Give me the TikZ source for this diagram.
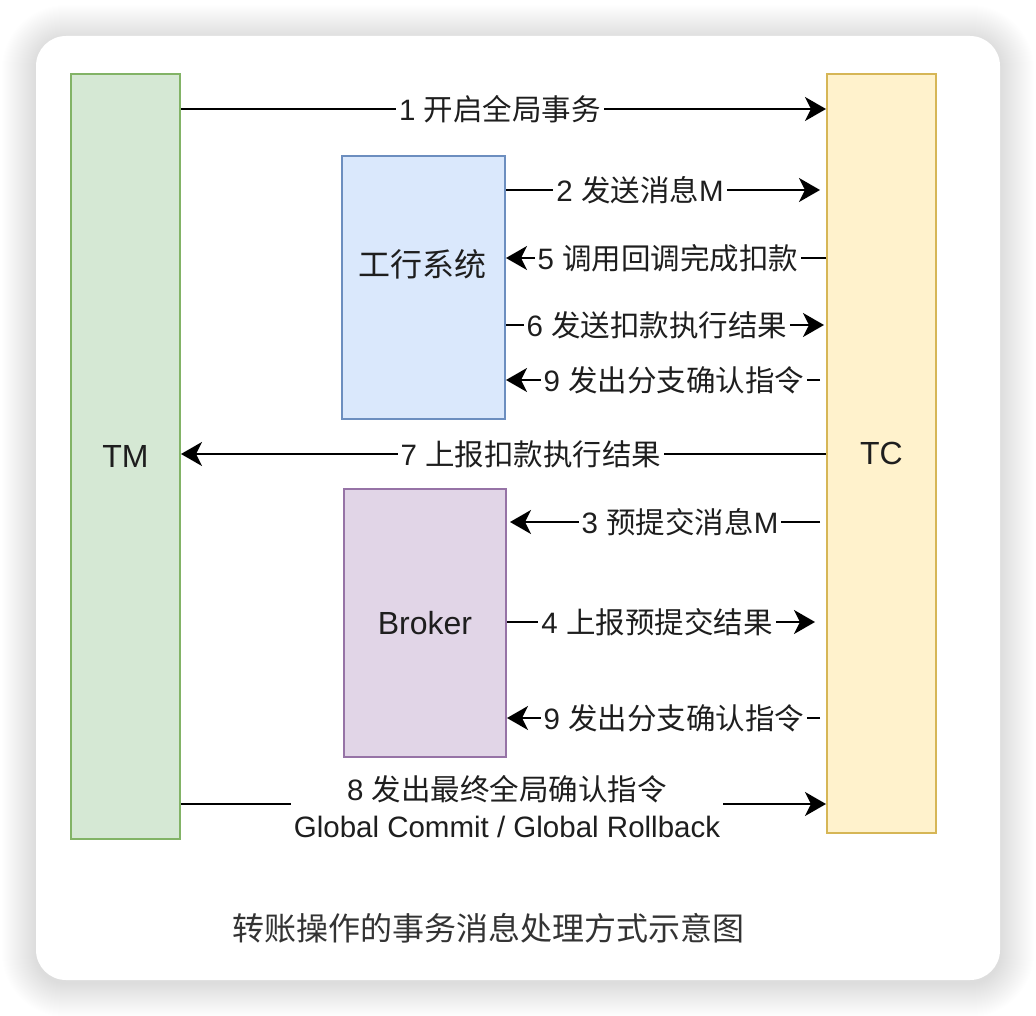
\documentclass[tikz,border=0pt]{standalone}
\usepackage{fontspec}
\setmainfont{Liberation Sans}
\newfontfamily\zhfont{Noto Sans CJK SC}
\usetikzlibrary{arrows.meta}
\definecolor{tmfill}{HTML}{D5E8D4}\definecolor{tmline}{HTML}{82B366}
\definecolor{tcfill}{HTML}{FFF2CC}\definecolor{tcline}{HTML}{D6B656}
\definecolor{bkfill}{HTML}{DAE8FC}\definecolor{bkline}{HTML}{6C8EBF}
\definecolor{brfill}{HTML}{E1D5E7}\definecolor{brline}{HTML}{9673A6}
\definecolor{txt}{HTML}{1E1E1E}
\definecolor{ttl}{HTML}{333333}
\begin{document}
\begin{tikzpicture}[x=1pt,y=-1pt,
  box/.style={draw, line width=2pt, inner sep=0pt, anchor=north west, text=txt, font=\fontsize{32}{38}\selectfont},
  lbl/.style={fill=white, inner xsep=3pt, inner ysep=1pt, text=txt, font=\fontsize{29.5}{37}\selectfont},
  flow/.style={line width=2pt, draw=black, -{Stealth[length=21pt,width=24pt,inset=6pt]}},
]
\useasboundingbox (0,0) rectangle (1036,1016);
% card shadow
\foreach \i [evaluate=\i as \r using 30+\i] in {1,...,34}{
  \fill[black, opacity=0.0045, rounded corners=\r pt] (36-\i,39-\i) rectangle (1000+\i,983+\i);
}
\fill[white, rounded corners=30pt] (36,36) rectangle (1000,980);

% boxes
\node[box, draw=tmline, fill=tmfill, minimum width=109pt, minimum height=765pt] (tm) at (70,73) {TM};
\node[box, draw=tcline, fill=tcfill, minimum width=109pt, minimum height=759pt] (tc) at (826,73) {TC};
\node[box, draw=bkline, fill=bkfill, minimum width=163pt, minimum height=263pt] (bank) at (341,155) {};
\node[text=txt, font=\fontsize{32}{38}\selectfont\zhfont] (banklbl) at (422,264) {工行系统};
\node[box, draw=brline, fill=brfill, minimum width=162pt, minimum height=268pt] (broker) at (343,488) {Broker};

% connectors
\draw[flow] ([yshift=-36pt]tm.north east) -- ([yshift=-36pt]tc.north west);
\draw[flow, shorten >=6pt] ([yshift=-35pt]bank.north east) -- ([yshift=-117pt]tc.north west);
\draw[flow] ([yshift=-185pt]tc.north west) -- ([yshift=-103pt]bank.north east);
\draw[flow, shorten >=2pt] ([yshift=-170pt]bank.north east) -- ([yshift=-252pt]tc.north west);
\draw[flow, shorten <=6pt] ([yshift=-307pt]tc.north west) -- ([yshift=-225pt]bank.north east);
\draw[flow] ([yshift=-381pt]tc.north west) -- ([yshift=-381pt]tm.north east);
\draw[flow, shorten <=6pt, shorten >=3pt] ([yshift=-449pt]tc.north west) -- ([yshift=-34pt]broker.north east);
\draw[flow, shorten >=11pt] ([yshift=-134pt]broker.north east) -- ([yshift=-549pt]tc.north west);
\draw[flow, shorten <=6pt] ([yshift=-645pt]tc.north west) -- ([yshift=-230pt]broker.north east);
\draw[flow] ([yshift=-731pt]tm.north east) -- ([yshift=-731pt]tc.north west);

% connector labels
\node[lbl] (l1) at (500,109) {1 {\zhfont 开启全局事务}};
\node[lbl] (l2) at (640,190) {2 {\zhfont 发送消息}M};
\node[lbl] (l5) at (668,258) {5 {\zhfont 调用回调完成扣款}};
\node[lbl] (l6) at (657,325) {6 {\zhfont 发送扣款执行结果}};
\node[lbl] (l9) at (674,380) {9 {\zhfont 发出分支确认指令}};
\node[lbl] (l7) at (531,454) {7 {\zhfont 上报扣款执行结果}};
\node[lbl] (l3) at (680,522) {3 {\zhfont 预提交消息}M};
\node[lbl] (l4) at (657,622) {4 {\zhfont 上报预提交结果}};
\node[lbl] (l9b) at (674,718) {9 {\zhfont 发出分支确认指令}};
\node[lbl, align=center] (l8) at (507,807) {8 {\zhfont 发出最终全局确认指令}\\Global Commit / Global Rollback};

% caption
\node[text=ttl, font=\fontsize{32}{38}\selectfont\zhfont] (title) at (488,928) {转账操作的事务消息处理方式示意图};
\end{tikzpicture}
\end{document}
